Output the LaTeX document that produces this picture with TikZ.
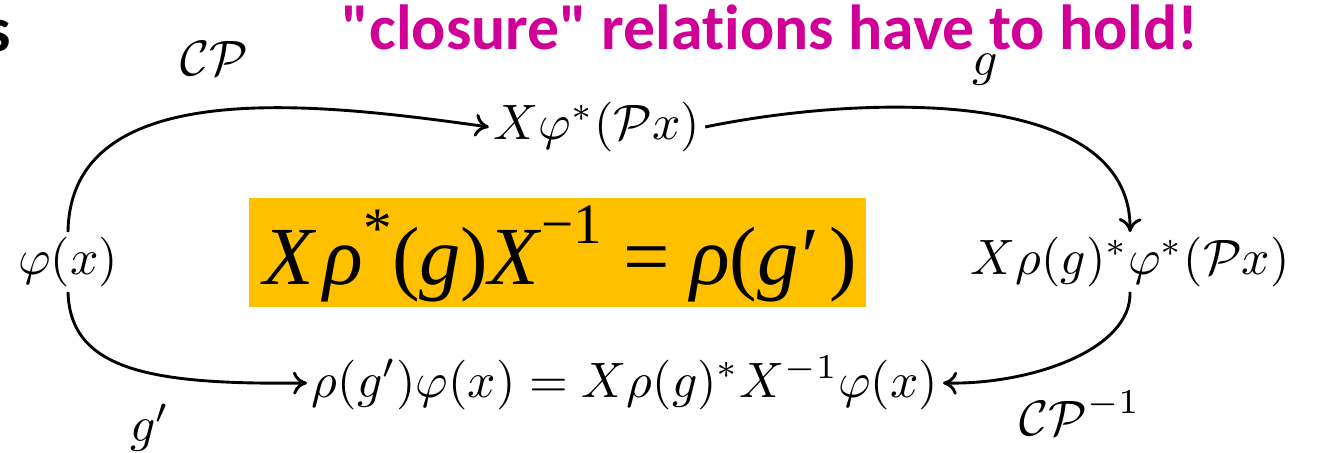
\documentclass[tikz,border=0pt]{standalone}
\usepackage{fontspec}
\newfontfamily\tnr{LiberationSerif}[Extension=.ttf, UprightFont=*-Regular, ItalicFont=*-Italic, BoldFont=*-Bold]
\newfontfamily\calibri[Ligatures={NoCommon,NoRare}]{Carlito}
\usetikzlibrary{arrows.meta}
\definecolor{pinkc}{RGB}{208,0,150}
\definecolor{boxc}{RGB}{255,192,0}
\begin{document}
\begin{tikzpicture}[x=0.201pt,y=-0.201pt,
  obj/.style={inner sep=0.8pt, font=\fontsize{10}{12}\selectfont},
  lab/.style={inner sep=0pt, font=\fontsize{10}{12}\selectfont},
  arr/.style={line width=0.58pt, -{Computer Modern Rightarrow[length=2.8pt,width=4.6pt]}}]
\useasboundingbox (0,0) rectangle (1317,453);
% title texts
\node[font=\calibri\bfseries\fontsize{12.8}{15}\selectfont, anchor=base east, inner sep=0pt] (s) at (12,52) {s};
\node[font=\calibri\bfseries\fontsize{12.8}{15}\selectfont, text=pinkc, anchor=base, inner sep=0pt] (title) at (770,50) {"closure" relations have to hold!};
% yellow box
\node[fill=boxc, minimum width=124pt, minimum height=21.9pt, inner sep=0pt] (box) at (557.5,252.5) {};
\node[inner sep=0pt, anchor=center] (formula) at (560,254)
  {\fontsize{16.6}{19}\selectfont\tnr \textit{X}\kern1.5pt\textit{ρ}\raisebox{0.45em}{\fontsize{11.5}{12}\selectfont *}(\textit{g})\textit{X}\raisebox{0.5em}{\fontsize{11.5}{12}\selectfont −1} = \textit{ρ}(\textit{g}\kern0.5pt′\kern2pt)};
% objects
\node[obj] (phi) at (68,262) {$\varphi(x)$};
\node[obj] (top) at (597,127) {$X\varphi^*(\mathcal{P}x)$};
\node[obj] (right) at (1130,262) {$X\rho(g)^*\varphi^*(\mathcal{P}x)$};
\node[obj] (bot) at (625,383) {$\rho(g')\varphi(x) = X\rho(g)^*X^{-1}\varphi(x)$};
% labels
\node[lab] (lcp) at (214,59) {$\mathcal{CP}$};
\node[lab] (lg) at (985,70) {$g$};
\node[lab] (lgp) at (150,428) {$g'$};
\node[lab] (lcpi) at (1080,413) {$\mathcal{CP}^{-1}$};
% arrows
\draw[arr] (phi.north) .. controls (70,70) and (330,105) .. (top.west);
\draw[arr] (top.east) .. controls (860,95) and (1132,85) .. (right.north);
\draw[arr] (right.south) .. controls (1132,350) and (1030,385) .. (bot.east);
\draw[arr] (phi.south) .. controls (70,370) and (150,385) .. (bot.west);
\end{tikzpicture}
\end{document}
